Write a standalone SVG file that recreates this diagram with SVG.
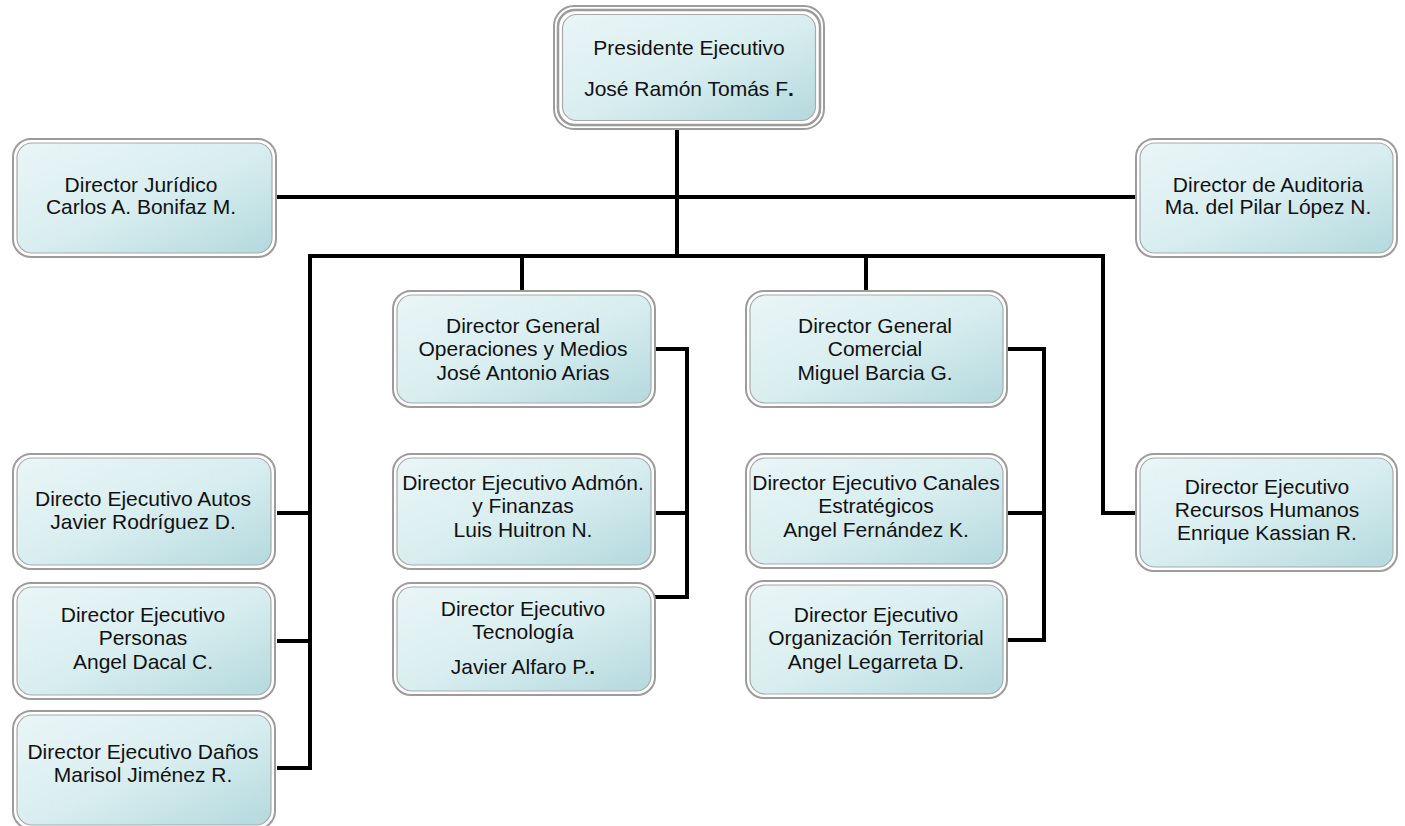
<svg xmlns="http://www.w3.org/2000/svg" width="1405" height="826" viewBox="0 0 1405 826">
<defs>
<linearGradient id="fill" x1="0" y1="0" x2="1" y2="1">
<stop offset="0" stop-color="#eaf5f6"/>
<stop offset="0.5" stop-color="#d9eef0"/>
<stop offset="1" stop-color="#b4d9dd"/>
</linearGradient>
<style>
.o{fill:#ffffff;stroke:#9c9c9c;stroke-width:2}
.i{fill:url(#fill);stroke:#a9a9a9;stroke-width:1.2}
.m{fill:#ffffff;stroke:#9c9c9c;stroke-width:2.5}
text{font-family:"Liberation Sans",Arial,sans-serif;font-size:21px;fill:#111;text-anchor:middle}
.c{fill:none;stroke:#000;stroke-width:4;stroke-linejoin:miter}
</style>
</defs>
<rect width="1405" height="826" fill="#ffffff"/>
<g id="connectors">
<path class="c" d="M677,130 V256"/>
<path class="c" d="M277,197 H1135"/>
<path class="c" d="M277,768 H310 V256 H1103 V513 H1135"/>
<path class="c" d="M522,256 V290"/>
<path class="c" d="M866,256 V290"/>
<path class="c" d="M655,349 H687 V597 H655"/>
<path class="c" d="M655,513 H687"/>
<path class="c" d="M1007,349 H1044 V640 H1007"/>
<path class="c" d="M1007,513 H1044"/>
<path class="c" d="M277,513 H310"/>
<path class="c" d="M277,641 H310"/>
</g>
<g id="presidente">
<rect class="o" x="554" y="6" width="270" height="123" rx="20"/>
<rect class="m" x="558" y="10" width="262" height="115" rx="17"/>
<rect class="i" x="562.5" y="14.5" width="253" height="106" rx="14"/>
<text x="689" y="55">Presidente Ejecutivo</text>
<text x="689" y="96">José Ramón Tomás F<tspan font-weight="bold">.</tspan></text>
</g>
<g id="juridico">
<rect class="o" x="13" y="139" width="263" height="118" rx="18"/>
<rect class="i" x="17" y="143" width="255" height="110" rx="15"/>
<text x="141" y="192">Director Jurídico</text>
<text x="141" y="214">Carlos A. Bonifaz M.</text>
</g>
<g id="auditoria">
<rect class="o" x="1136" y="139" width="261" height="118" rx="18"/>
<rect class="i" x="1140" y="143" width="253" height="110" rx="15"/>
<text x="1268" y="192">Director de Auditoria</text>
<text x="1268" y="214">Ma. del Pilar López N.</text>
</g>
<g id="operaciones">
<rect class="o" x="393" y="291" width="262" height="116" rx="18"/>
<rect class="i" x="397" y="295" width="254" height="108" rx="15"/>
<text x="523" y="333">Director General</text>
<text x="523" y="356">Operaciones y Medios</text>
<text x="523" y="380">José Antonio Arias</text>
</g>
<g id="comercial">
<rect class="o" x="746" y="291" width="261" height="116" rx="18"/>
<rect class="i" x="750" y="295" width="253" height="108" rx="15"/>
<text x="875" y="333">Director General</text>
<text x="875" y="356">Comercial</text>
<text x="875" y="380">Miguel Barcia G.</text>
</g>
<g id="autos">
<rect class="o" x="13" y="454" width="262" height="115" rx="18"/>
<rect class="i" x="17" y="458" width="254" height="107" rx="15"/>
<text x="143" y="506">Directo Ejecutivo Autos</text>
<text x="143" y="529">Javier Rodríguez D.</text>
</g>
<g id="personas">
<rect class="o" x="13" y="583" width="262" height="116" rx="18"/>
<rect class="i" x="17" y="587" width="254" height="108" rx="15"/>
<text x="143" y="622">Director Ejecutivo</text>
<text x="143" y="645">Personas</text>
<text x="143" y="669">Angel Dacal C.</text>
</g>
<g id="danos">
<rect class="o" x="13" y="711" width="262" height="118" rx="18"/>
<rect class="i" x="17" y="715" width="254" height="110" rx="15"/>
<text x="143" y="759">Director Ejecutivo Daños</text>
<text x="143" y="782">Marisol Jiménez R.</text>
</g>
<g id="admon">
<rect class="o" x="393" y="454" width="262" height="115" rx="18"/>
<rect class="i" x="397" y="458" width="254" height="107" rx="15"/>
<text x="523" y="490">Director Ejecutivo Admón.</text>
<text x="523" y="513">y Finanzas</text>
<text x="523" y="537">Luis Huitron N.</text>
</g>
<g id="tecnologia">
<rect class="o" x="393" y="583" width="262" height="112" rx="18"/>
<rect class="i" x="397" y="587" width="254" height="104" rx="15"/>
<text x="523" y="616">Director Ejecutivo</text>
<text x="523" y="639">Tecnología</text>
<text x="523" y="674">Javier Alfaro P.<tspan font-weight="bold">.</tspan></text>
</g>
<g id="canales">
<rect class="o" x="746" y="454" width="261" height="114" rx="18"/>
<rect class="i" x="750" y="458" width="253" height="106" rx="15"/>
<text x="876" y="490">Director Ejecutivo Canales</text>
<text x="876" y="513">Estratégicos</text>
<text x="876" y="537">Angel Fernández K.</text>
</g>
<g id="organizacion">
<rect class="o" x="746" y="581" width="261" height="117" rx="18"/>
<rect class="i" x="750" y="585" width="253" height="109" rx="15"/>
<text x="876" y="622">Director Ejecutivo</text>
<text x="876" y="645">Organización Territorial</text>
<text x="876" y="669">Angel Legarreta D.</text>
</g>
<g id="rrhh">
<rect class="o" x="1136" y="454" width="261" height="117" rx="18"/>
<rect class="i" x="1140" y="458" width="253" height="109" rx="15"/>
<text x="1267" y="494">Director Ejecutivo</text>
<text x="1267" y="517">Recursos Humanos</text>
<text x="1267" y="540">Enrique Kassian R.</text>
</g>
</svg>
